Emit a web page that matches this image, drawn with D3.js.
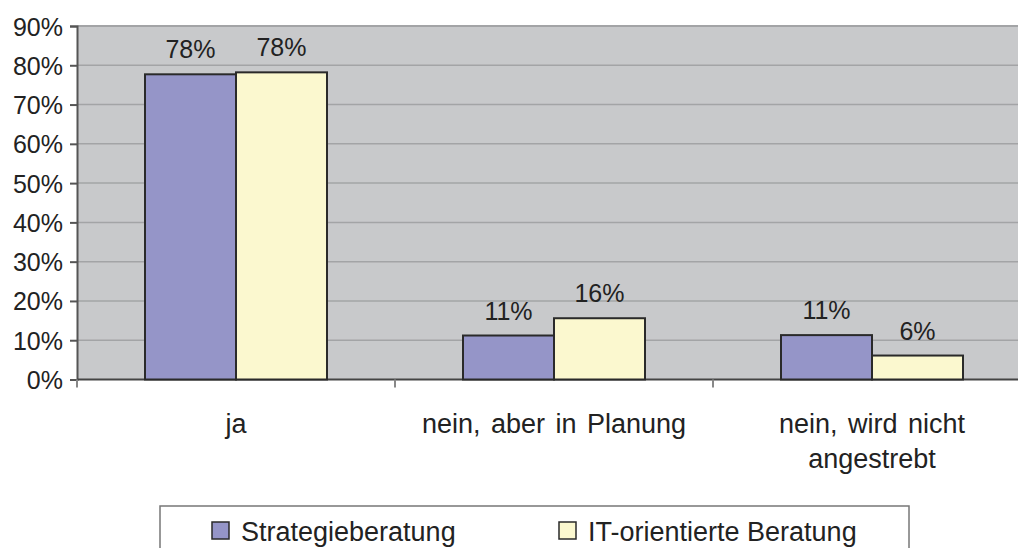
<!DOCTYPE html>
<html><head><meta charset="utf-8">
<script src="https://cdn.jsdelivr.net/npm/d3@7/dist/d3.min.js"></script>
<style>
html,body{margin:0;padding:0;background:#fff;overflow:hidden}
text{font-family:"Liberation Sans",Arial,sans-serif;fill:#222}
</style></head><body>
<svg id="c" width="1018" height="548"></svg>
<script>
const categories = [["ja"], ["nein, aber in Planung"], ["nein, wird nicht", "angestrebt"]];
const seriesNames = ["Strategieberatung", "IT-orientierte Beratung"];
const strategie = [77.7, 11.2, 11.3];
const itOrientiert = [78.2, 15.6, 6.1];
const labelsStrategie = ["78%", "11%", "11%"];
const labelsIT = ["78%", "16%", "6%"];
const yTicks = [0,10,20,30,40,50,60,70,80,90];
const colors = ["#9595c8", "#fbf8cf"];

const svg = d3.select("#c");
const L = 77, R = 1031, T = 26, B = 379.5;
const x = d3.scaleBand().domain(d3.range(categories.length)).range([L, R]).paddingInner(0).paddingOuter(0);
const y = d3.scaleLinear().domain([0, 90]).range([B, T]);
const bw = 91;

svg.append("rect").attr("x", L).attr("y", T).attr("width", R-L).attr("height", B-T).attr("fill", "#c8c9cb");
svg.append("line").attr("x1", L).attr("x2", R).attr("y1", T).attr("y2", T).attr("stroke", "#a3a4a6").attr("stroke-width", 2);
svg.append("g").selectAll("line").data(yTicks.slice(1, -1)).join("line")
  .attr("x1", L).attr("x2", R).attr("y1", d=>y(d)).attr("y2", d=>y(d))
  .attr("stroke", "#a3a4a6").attr("stroke-width", 1.5);

const yAxis = d3.axisLeft(y).tickValues(yTicks).tickFormat(d=>d+"%").tickSize(7).tickPadding(7);
const gy = svg.append("g").attr("transform", `translate(${L},0)`).call(yAxis);
gy.select(".domain").attr("stroke", "#555").attr("stroke-width", 2);
gy.selectAll(".tick line").attr("stroke", "#555").attr("stroke-width", 2);
gy.selectAll(".tick text").style("font-size", "25px").style("font-family", "Liberation Sans, Arial, sans-serif").attr("fill", "#222").attr("dy", "0.36em");

svg.append("line").attr("x1", L).attr("x2", R).attr("y1", B).attr("y2", B).attr("stroke", "#444").attr("stroke-width", 2);
svg.append("g").selectAll("line").data(d3.range(categories.length+1)).join("line")
  .attr("x1", d=>L + d*x.bandwidth()).attr("x2", d=>L + d*x.bandwidth())
  .attr("y1", B).attr("y2", B+8).attr("stroke", "#888").attr("stroke-width", 2);

const series = [strategie, itOrientiert];
const labels = [labelsStrategie, labelsIT];
series.forEach((vals, s) => {
  const g = svg.append("g");
  g.selectAll("rect").data(vals).join("rect")
    .attr("x", (d,i)=>x(i) + x.bandwidth()/2 - bw + s*bw)
    .attr("y", d=>y(d)).attr("width", bw).attr("height", d=>B - y(d))
    .attr("fill", colors[s]).attr("stroke", "#2a2a2a").attr("stroke-width", 2);
  g.selectAll("text").data(vals).join("text")
    .attr("x", (d,i)=>x(i) + x.bandwidth()/2 - bw/2 + s*bw)
    .attr("y", d=>y(d) - 16)
    .attr("text-anchor", "middle").style("font-size", "25px")
    .text((d,i)=>labels[s][i]);
});

categories.forEach((lines, i) => {
  const cx = x(i) + x.bandwidth()/2;
  const t = svg.append("text").attr("x", cx).attr("y", 433)
    .attr("text-anchor", "middle").style("font-size", "27px").style("word-spacing", "3px");
  lines.forEach((ln, k) => t.append("tspan").attr("x", cx).attr("dy", k ? 35 : 0).text(ln));
});

svg.append("rect").attr("x", 160).attr("y", 506).attr("width", 749).attr("height", 60)
  .attr("fill", "#fff").attr("stroke", "#777").attr("stroke-width", 1.5);
const legX = [212, 559];
seriesNames.forEach((n, s) => {
  svg.append("rect").attr("x", legX[s]).attr("y", 522).attr("width", 17).attr("height", 17)
    .attr("fill", colors[s]).attr("stroke", "#2a2a2a").attr("stroke-width", 1.5);
  svg.append("text").attr("x", legX[s] + 29).attr("y", 541).style("font-size", "27px").text(n);
});
</script></body></html>
